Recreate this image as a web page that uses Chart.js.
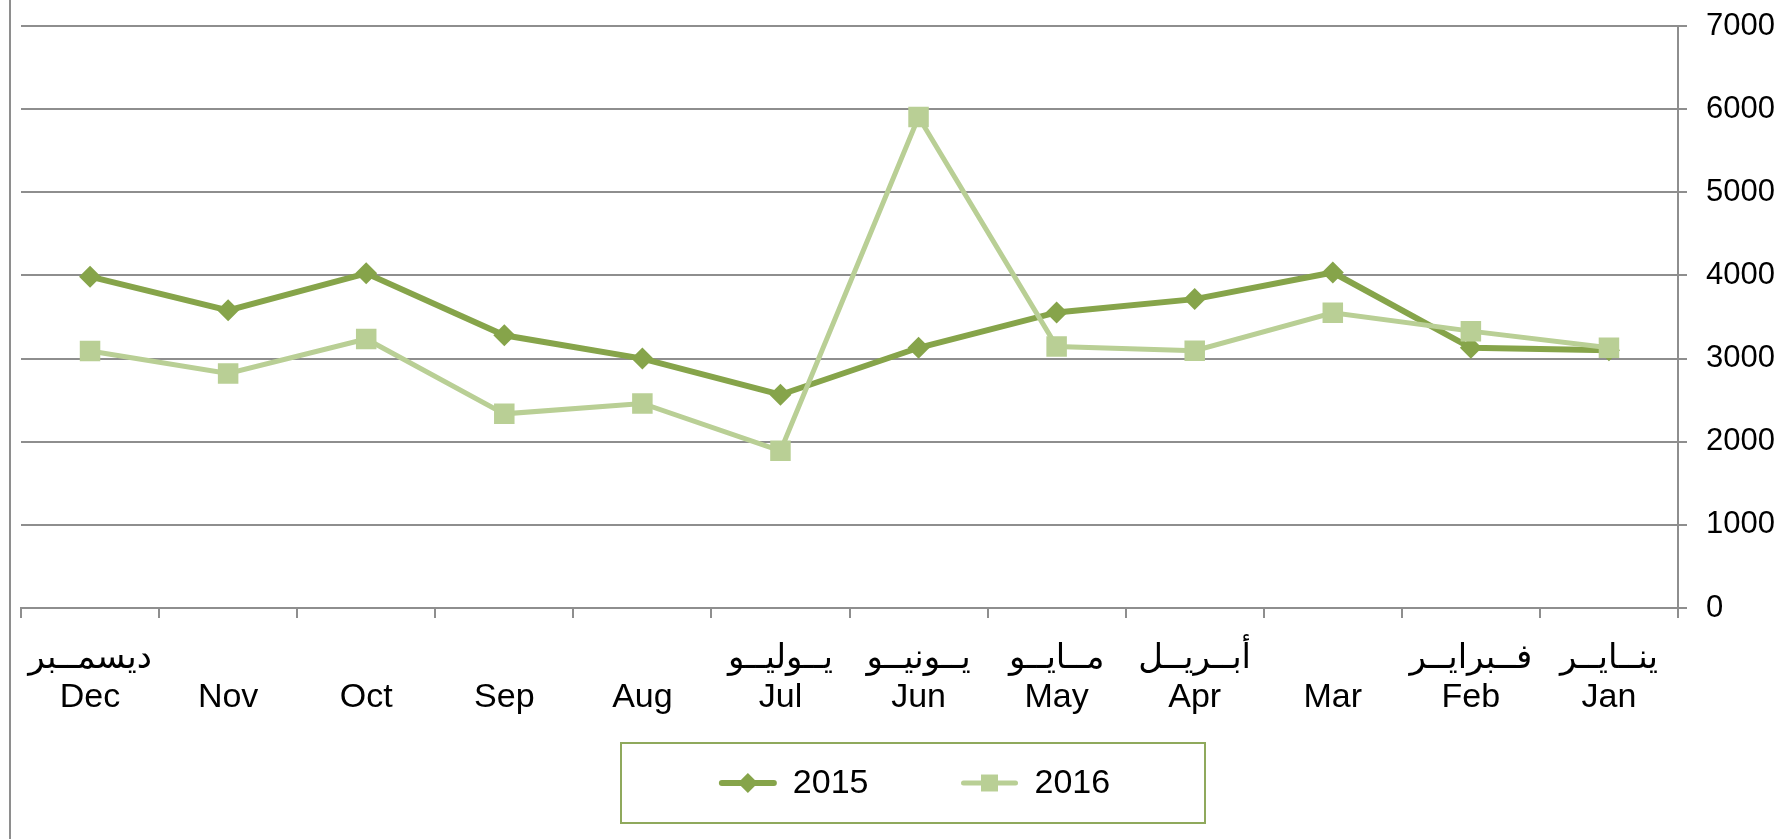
<!DOCTYPE html>
<html>
<head>
<meta charset="utf-8">
<script src="https://cdn.jsdelivr.net/npm/chart.js@4/dist/chart.umd.min.js"></script>
<style>
  html, body { margin: 0; padding: 0; background: #ffffff; }
  #wrap { width: 1790px; height: 839px; position: relative; }
</style>
</head>
<body>
<div id="wrap"><canvas id="c" width="1790" height="839"></canvas></div>
<script>
// ---- data (January -> December; axis is drawn reversed) ----
const monthsEn = ['Jan','Feb','Mar','Apr','May','Jun','Jul','Aug','Sep','Oct','Nov','Dec'];
const monthsAr = ['ينــايــر','فــبرايــر','','أبــريــل','مــايــو','يــونيــو','يــوليــو','','','','','ديسمــبر'];
const series2015 = [3100, 3130, 4035, 3715, 3555, 3130, 2565, 3000, 3280, 4025, 3580, 3985];
const series2016 = [3130, 3330, 3550, 3095, 3145, 5905, 1890, 2460, 2335, 3235, 2820, 3090];
const seriesNames = ['2015', '2016'];
const yTicks = [0, 1000, 2000, 3000, 4000, 5000, 6000, 7000];

const labels = monthsEn.map((m, i) => [monthsAr[i], m]);

const C2015 = '#86a44a';
const C2016 = '#b9cf95';
const GRID = '#8e8e8e';
const FONT = '"Liberation Sans", Arial, "DejaVu Sans", sans-serif';

function markerPath(ctx, style, x, y, r) {
  ctx.beginPath();
  if (style === 'rectRot') {
    ctx.moveTo(x - r, y); ctx.lineTo(x, y - r); ctx.lineTo(x + r, y); ctx.lineTo(x, y + r);
  } else {
    const s = Math.SQRT1_2 * r;
    ctx.rect(x - s, y - s, 2 * s, 2 * s);
  }
  ctx.closePath();
}

const framePlugin = {
  id: 'frame',
  beforeDraw(chart) {
    const ctx = chart.ctx;
    ctx.save();
    ctx.fillStyle = '#ffffff';
    ctx.fillRect(0, 0, chart.width, chart.height);
    ctx.strokeStyle = GRID;
    ctx.lineWidth = 2;
    ctx.beginPath();
    ctx.moveTo(10, 0); ctx.lineTo(10, chart.height);
    ctx.stroke();
    ctx.restore();
  }
};

const legendPlugin = {
  id: 'boxLegend',
  afterDraw(chart) {
    const ctx = chart.ctx;
    const box = { x: 621, y: 743, w: 584, h: 80 };
    ctx.save();
    ctx.strokeStyle = '#8fa95c';
    ctx.lineWidth = 2;
    ctx.strokeRect(box.x, box.y, box.w, box.h);
    ctx.font = '34px ' + FONT;
    ctx.textBaseline = 'middle';
    ctx.textAlign = 'left';
    const sampleW = 56, textGap = 17, itemGap = 93;
    const items = chart.data.datasets.map(ds => ({ ds, tw: ctx.measureText(ds.label).width }));
    const total = items.reduce((s, it) => s + sampleW + textGap + it.tw, 0) + itemGap * (items.length - 1);
    let x = box.x + box.w / 2 - total / 2 + 2;
    const cy = box.y + 40;
    items.forEach(({ ds, tw }) => {
      ctx.strokeStyle = ds.borderColor;
      ctx.lineWidth = ds.borderWidth;
      ctx.lineCap = 'round';
      ctx.beginPath();
      ctx.moveTo(x + 2, cy); ctx.lineTo(x + sampleW - 2, cy);
      ctx.stroke();
      ctx.fillStyle = ds.pointBackgroundColor;
      markerPath(ctx, ds.pointStyle, x + sampleW / 2, cy, ds.pointStyle === 'rectRot' ? 10 : 12);
      ctx.fill();
      ctx.fillStyle = '#000000';
      ctx.fillText(ds.label, x + sampleW + textGap, cy + 1);
      x += sampleW + textGap + tw + itemGap;
    });
    ctx.restore();
  }
};

new Chart(document.getElementById('c'), {
  type: 'line',
  data: {
    labels: labels,
    datasets: [
      {
        label: seriesNames[0],
        data: series2015,
        borderColor: C2015,
        backgroundColor: C2015,
        borderWidth: 6,
        pointStyle: 'rectRot',
        pointRadius: 11,
        pointBackgroundColor: C2015,
        pointBorderColor: C2015,
        pointBorderWidth: 0,
        tension: 0,
        order: 1
      },
      {
        label: seriesNames[1],
        data: series2016,
        borderColor: C2016,
        backgroundColor: C2016,
        borderWidth: 5,
        pointStyle: 'rect',
        pointRadius: 14.5,
        pointBackgroundColor: C2016,
        pointBorderColor: C2016,
        pointBorderWidth: 0,
        tension: 0,
        order: 0
      }
    ]
  },
  options: {
    responsive: false,
    animation: false,
    devicePixelRatio: 1,
    layout: { padding: { top: 26, left: 21, right: 0, bottom: 0 } },
    plugins: {
      legend: { display: false },
      tooltip: { enabled: false }
    },
    scales: {
      x: {
        type: 'category',
        reverse: true,
        offset: true,
        afterFit(scale) { scale.height = 839 - 608; },
        grid: {
          display: true,
          drawOnChartArea: false,
          drawTicks: true,
          tickLength: 10,
          color: GRID,
          lineWidth: 2,
          offset: true
        },
        border: { display: true, color: GRID, width: 2 },
        ticks: {
          color: '#000000',
          font: { family: FONT, size: 34, lineHeight: 1.15 },
          padding: 21,
          maxRotation: 0,
          autoSkip: false
        }
      },
      y: {
        position: 'right',
        min: 0,
        max: 7000,
        afterFit(scale) { scale.width = 1790 - 1678; },
        afterBuildTicks(scale) { scale.ticks = yTicks.map(v => ({ value: v })); },
        grid: {
          color: GRID,
          lineWidth: 2,
          drawTicks: true,
          tickLength: 9
        },
        border: { display: true, color: GRID, width: 2 },
        ticks: {
          color: '#000000',
          font: { family: FONT, size: 31, lineHeight: 0.4 },
          padding: 19,
          callback: (v) => String(v)
        }
      }
    }
  },
  plugins: [framePlugin, legendPlugin]
});
</script>
</body>
</html>
